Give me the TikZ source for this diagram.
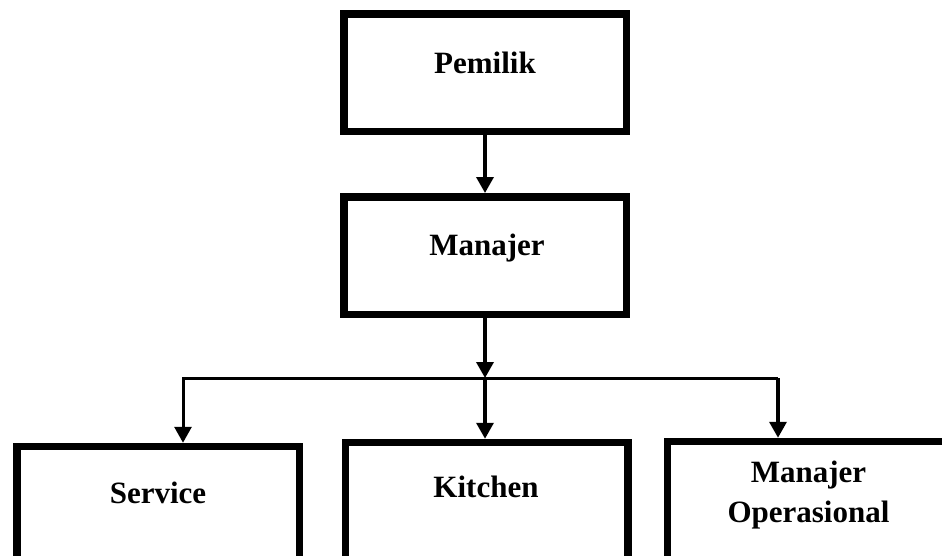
\documentclass[tikz,border=0pt]{standalone}
\usepackage{fontspec}
\setmainfont{Liberation Serif}
\usetikzlibrary{arrows.meta, positioning}

\begin{document}
\begin{tikzpicture}[x=1pt, y=-1pt,
    box/.style={draw, line width=7.5pt, minimum width=282.5pt, inner sep=0pt},
    lbl/.style={font=\fontsize{31}{40}\selectfont\bfseries, inner sep=0pt, align=center},
    conn/.style={line width=3.5pt, -{Triangle[length=16pt, width=17pt]}}]
    % Dimensions
    \def\topboxh{117.5}
    \def\lowboxh{200}
    \def\busy{378}

    % Page
    \useasboundingbox (0,0) rectangle (942,555);
    \clip (0,0) rectangle (942,555);

    % Upper boxes
    \node[box, minimum height=\topboxh pt] (pemilik) at (485, 72.5) {};
    \node[box, minimum height=\topboxh pt] (manajer) at (485, 255.5) {};

    % Lower boxes (run off the page)
    \node[box, minimum height=\lowboxh pt, anchor=north] (service) at (158, 442.75) {};
    \node[box, minimum height=\lowboxh pt, anchor=north] (kitchen) at (486.5, 438.75) {};
    \node[box, minimum height=\lowboxh pt, anchor=north] (manop) at (808.5, 437.75) {};

    % Labels
    \node[lbl, anchor=base] (pemiliklbl) at (485, 73) {Pemilik};
    \node[lbl, anchor=base] (manajerlbl) at (487, 255) {Manajer};
    \node[lbl, anchor=base] (servicelbl) at (158, 503) {Service};
    \node[lbl, anchor=base] (kitchenlbl) at (486, 497) {Kitchen};
    \node[lbl] (manoplbl) at (808.5, 495) {Manajer\\Operasional};

    % Bus
    \coordinate (split) at (485, \busy);
    \coordinate (busl) at (183, \busy);
    \coordinate (busr) at (778, \busy);

    % Connectors
    \draw[conn] (pemilik) -- (manajer);
    \draw[conn] (manajer) -- (split);
    \draw[conn, line width=3pt] (busr) -- (busl) -- (busl |- service.north);
    \draw[conn] (split) -- (split |- kitchen.north);
    \draw[conn] (busr) -- (busr |- manop.north);
\end{tikzpicture}
\end{document}
